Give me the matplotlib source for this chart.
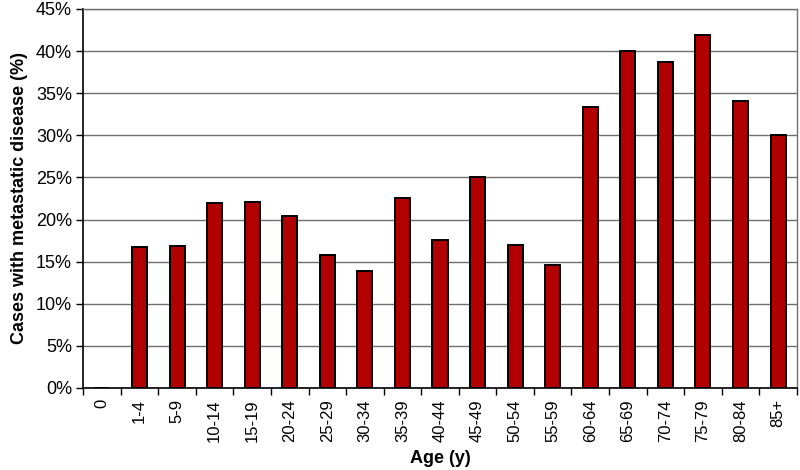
import matplotlib
matplotlib.use("Agg")
import matplotlib.pyplot as plt
import numpy as np
from matplotlib.ticker import FixedLocator, PercentFormatter

categories = ["0", "1-4", "5-9", "10-14", "15-19", "20-24", "25-29", "30-34", "35-39",
              "40-44", "45-49", "50-54", "55-59", "60-64", "65-69", "70-74", "75-79",
              "80-84", "85+"]
values = [0.0, 16.7, 16.9, 22.0, 22.1, 20.4, 15.8, 13.9, 22.6, 17.6, 25.1, 17.0, 14.6,
          33.4, 40.0, 38.7, 41.9, 34.1, 30.0]

plt.rcParams['font.family'] = ['Liberation Sans', 'DejaVu Sans']

fig = plt.figure(figsize=(8, 4.7), dpi=100)
ax = fig.add_axes([0.104, 0.1745, 0.892, 0.8065])

x = np.arange(len(categories))
ax.bar(x, values, width=0.4, color="#B00000", edgecolor="black", linewidth=1.4, zorder=3)

ax.set_xlim(-0.5, len(categories) - 0.5)
ax.set_ylim(0, 45)
ax.set_yticks(np.arange(0, 46, 5))
ax.yaxis.set_major_formatter(PercentFormatter(decimals=0))
ax.grid(axis="y", color="#707070", linewidth=1.0, zorder=0)

ax.set_xticks(x)
ax.set_xticklabels(categories, rotation=90, fontsize=12)
ax.tick_params(axis="x", which="major", length=0, pad=8)
ax.xaxis.set_minor_locator(FixedLocator(np.arange(-0.5, len(categories), 1)))
ax.tick_params(axis="x", which="minor", length=5, width=1, color="black", direction="out")
ax.tick_params(axis="y", labelsize=13, length=5, width=1, direction="out", pad=3)

for s in ["top", "right"]:
    ax.spines[s].set_color("#707070")
    ax.spines[s].set_linewidth(1.0)
ax.spines["left"].set_color("black")
ax.spines["bottom"].set_color("black")
ax.spines["left"].set_linewidth(1.2)
ax.spines["bottom"].set_linewidth(1.2)

ax.set_ylabel("Cases with metastatic disease (%)", fontsize=13, fontweight="bold", labelpad=6)
ax.set_xlabel("Age (y)", fontsize=13, fontweight="bold", labelpad=6)

fig.savefig("out.png", dpi=100)
